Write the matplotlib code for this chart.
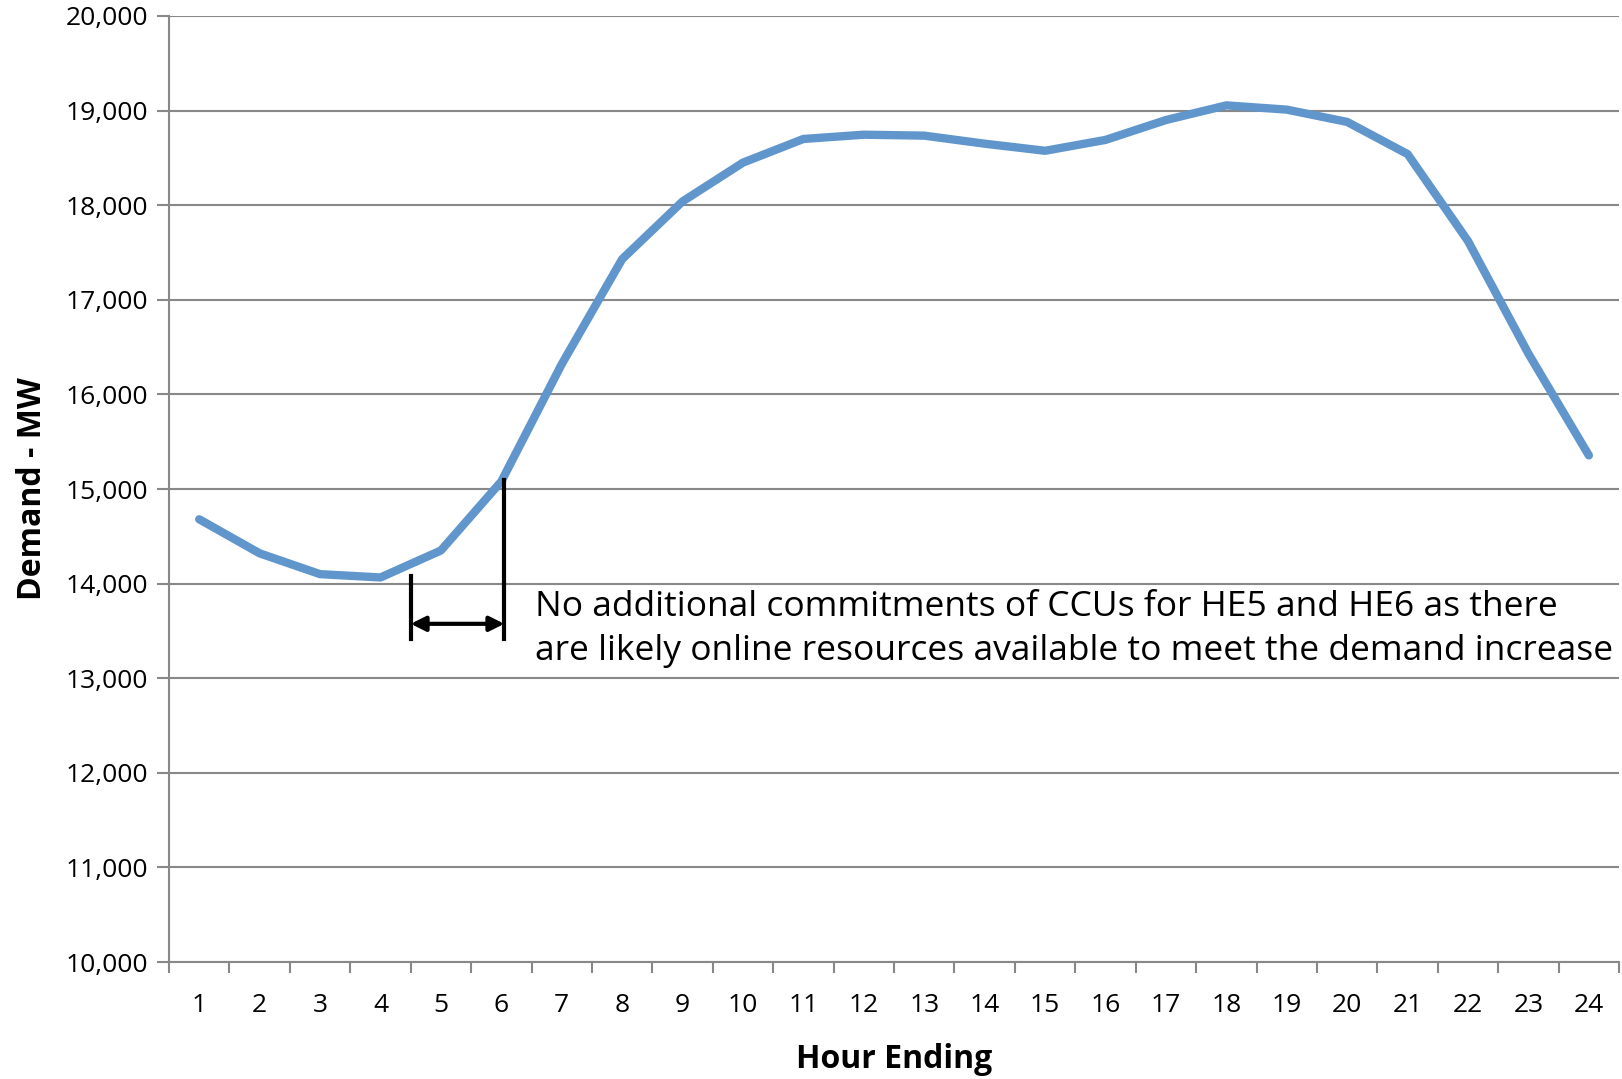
import matplotlib.pyplot as plt
from matplotlib.ticker import FuncFormatter, MultipleLocator

hours = list(range(1, 25))
demand = [14680, 14320, 14100, 14065, 14350, 15080, 16320, 17430, 18040, 18450,
          18700, 18745, 18735, 18650, 18575, 18690, 18900, 19055, 19010, 18880,
          18540, 17620, 16430, 15355]

note = ("No additional commitments of CCUs for HE5 and HE6 as there\n"
        "are likely online resources available to meet the demand increase")

plt.rcParams["font.family"] = ["Open Sans", "DejaVu Sans"]

fig = plt.figure(figsize=(16.22, 10.79), dpi=100)
ax = fig.add_axes([0.1042, 0.1084, 0.894, 0.8768])

grid_col = "#888888"
ax.set_ylim(10000, 20000)
ax.set_xlim(0.5, 24.5)
ax.yaxis.set_major_locator(MultipleLocator(1000))
ax.yaxis.set_major_formatter(FuncFormatter(lambda v, _: f"{int(v):,}"))
ax.grid(axis="y", color=grid_col, linewidth=1.5)
ax.set_axisbelow(True)

ax.set_xticks(hours)
ax.set_xticks([h - 0.5 for h in hours] + [24.5], minor=True)
ax.tick_params(axis="x", which="major", length=0, pad=22, labelsize=19)
ax.tick_params(axis="x", which="minor", length=8, width=1.5, color=grid_col,
               direction="out")
ax.tick_params(axis="y", length=9, width=1.5, color=grid_col, labelsize=19, pad=6)

for side in ("top", "right"):
    ax.spines[side].set_visible(False)
for side in ("left", "bottom"):
    ax.spines[side].set_color(grid_col)
    ax.spines[side].set_linewidth(1.5)

ax.plot(hours, demand, color="#6096CC", linewidth=6, solid_capstyle="round",
        solid_joinstyle="round", zorder=3)

# bracket marking HE5-HE6
ax.plot([4.5, 4.5], [13410, 14080], color="black", linewidth=3, zorder=4)
ax.plot([6.05, 6.05], [13410, 15100], color="black", linewidth=3, zorder=4)
ax.annotate("", xy=(6.05, 13575), xytext=(4.5, 13575),
            arrowprops=dict(arrowstyle="<|-|>", color="black", lw=3,
                            mutation_scale=22, shrinkA=0, shrinkB=0), zorder=4)
ax.text(6.56, 13520, note, fontsize=25.5, va="center", ha="left",
        linespacing=1.38, zorder=5)

ax.set_xlabel("Hour Ending", fontsize=23, fontweight="bold", labelpad=18)
ax.set_ylabel("Demand - MW", fontsize=23, fontweight="bold", labelpad=12)

fig.savefig("out.png", dpi=100)
